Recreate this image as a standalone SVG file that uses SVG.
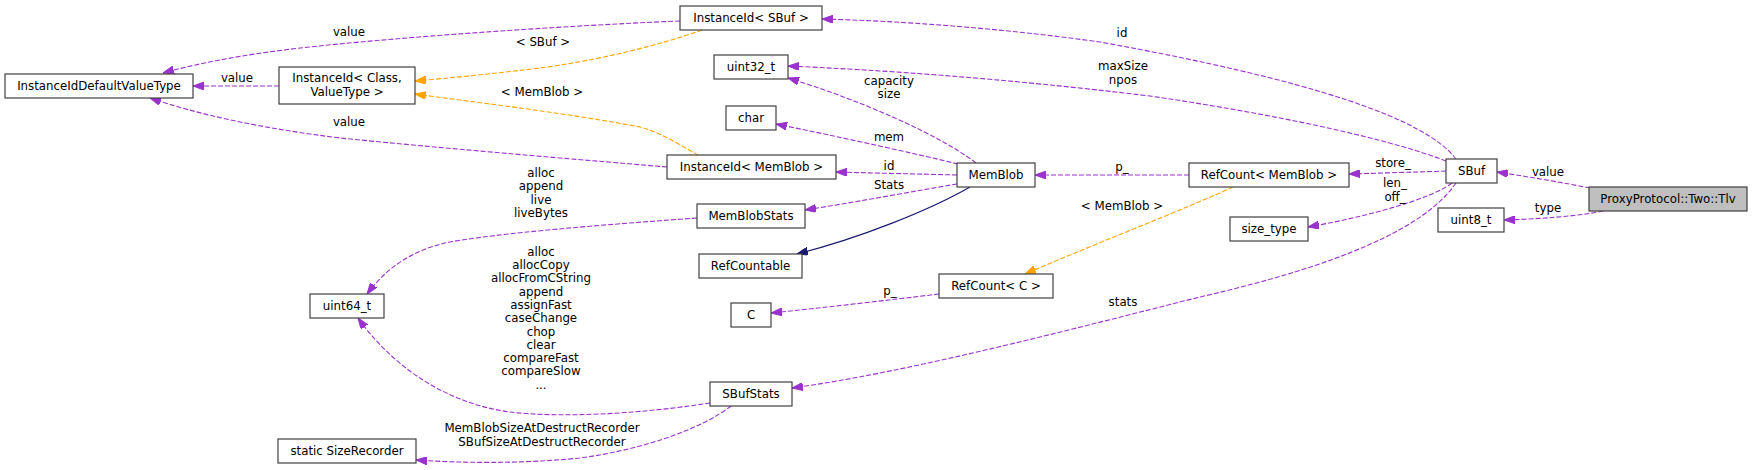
<svg xmlns="http://www.w3.org/2000/svg" width="1753" height="470" viewBox="0 0 1753 470">
<style>
text{font-family:"DejaVu Sans","Liberation Sans",sans-serif;font-size:11.8px;fill:#000;text-anchor:middle}
.node rect{fill:#fff;stroke:#404040;stroke-width:1.2}
.node.main rect{fill:#bfbfbf}
.e{fill:none;stroke:#9a32cd;stroke-width:1.1;stroke-dasharray:5,2;marker-end:url(#ap)}
.t{fill:none;stroke:#ffa500;stroke-width:1.1;stroke-dasharray:5,2;marker-end:url(#ao)}
.i{fill:none;stroke:#191970;stroke-width:1.1;marker-end:url(#ab)}
</style>
<defs>
<marker id="ap" viewBox="0 0 11 8" refX="11" refY="4" markerWidth="11" markerHeight="8" markerUnits="userSpaceOnUse" orient="auto"><path d="M0,0 L11,4 L0,8 z" fill="#9a32cd" stroke="#9a32cd"/></marker>
<marker id="ao" viewBox="0 0 11 8" refX="11" refY="4" markerWidth="11" markerHeight="8" markerUnits="userSpaceOnUse" orient="auto"><path d="M0,0 L11,4 L0,8 z" fill="#ffa500" stroke="#ffa500"/></marker>
<marker id="ab" viewBox="0 0 11 8" refX="11" refY="4" markerWidth="11" markerHeight="8" markerUnits="userSpaceOnUse" orient="auto"><path d="M0,0 L11,4 L0,8 z" fill="#191970" stroke="#191970"/></marker>
</defs>
<rect width="1753" height="470" fill="#fff"/>
<g id="edges">
<path class="e" d="M1590,188 C1565,183 1530,177 1497,172"/>
<text x="1548" y="176">value</text>
<path class="e" d="M1603,211 C1580,216 1540,219 1504,220"/>
<text x="1548" y="212">type</text>
<path class="e" d="M1446,171 C1420,172 1380,173 1349,174"/>
<text x="1393" y="167">store_</text>
<path class="e" d="M1452,183 C1430,200 1360,218 1308,227"/>
<text x="1395" y="187">len_</text>
<text x="1395" y="201">off_</text>
<path class="e" d="M1456,183 C1425,228 1340,265 1200,297 C1080,327 910,372 792,388"/>
<text x="1123" y="306">stats</text>
<path class="e" d="M1456,159 C1425,118 1310,80 1100,42 C1000,28 900,21 822,19"/>
<text x="1122" y="37">id</text>
<path class="e" d="M1446,161 C1400,143 1300,118 1150,96 C1000,78 880,70 788,66"/>
<text x="1123" y="70">maxSize</text>
<text x="1123" y="84">npos</text>
<path class="e" d="M1189,175 L1035,175"/>
<text x="1122" y="171">p_</text>
<path class="t" d="M1233,187 C1190,207 1080,250 1025,274"/>
<text x="1122" y="210">&lt; MemBlob &gt;</text>
<path class="e" d="M939,294 C890,300 820,308 771,313"/>
<text x="890" y="295">p_</text>
<path class="e" d="M957,175 C920,174 870,173 836,172"/>
<text x="889" y="170">id</text>
<path class="e" d="M957,184 C910,192 850,203 805,210"/>
<text x="889" y="189">Stats</text>
<path class="i" d="M970,187 C930,210 860,238 797,254"/>
<path class="e" d="M958,164 C900,150 830,135 776,124"/>
<text x="889" y="141">mem</text>
<path class="e" d="M976,163 C940,135 860,100 788,78"/>
<text x="889" y="85">capacity</text>
<text x="889" y="98">size</text>
<path class="t" d="M698,155 C680,145 660,132 640,127 C560,112 480,103 415,94"/>
<text x="542" y="96">&lt; MemBlob &gt;</text>
<path class="t" d="M702,30 C660,45 600,60 540,68 C490,74 450,78 415,81"/>
<text x="543" y="46">&lt; SBuf &gt;</text>
<path class="e" d="M680,21 C560,26 400,37 300,48 C240,55 195,64 163,73"/>
<text x="349" y="36">value</text>
<path class="e" d="M279,86 L193,86"/>
<text x="237" y="82">value</text>
<path class="e" d="M667,167 C560,158 440,148 340,138 C260,128 200,115 150,98"/>
<text x="349" y="126">value</text>
<path class="e" d="M697,218 C600,225 500,233 450,242 C410,250 385,270 367,294"/>
<text x="541" y="177">alloc</text>
<text x="541" y="190">append</text>
<text x="541" y="203.5">live</text>
<text x="541" y="217">liveBytes</text>
<path class="e" d="M710,403 C640,414 560,418 510,412 C450,404 395,370 358,318"/>
<text x="541" y="255.7">alloc</text>
<text x="541" y="269">allocCopy</text>
<text x="541" y="282.3">allocFromCString</text>
<text x="541" y="295.6">append</text>
<text x="541" y="308.9">assignFast</text>
<text x="541" y="322.2">caseChange</text>
<text x="541" y="335.5">chop</text>
<text x="541" y="348.8">clear</text>
<text x="541" y="362.1">compareFast</text>
<text x="541" y="375.4">compareSlow</text>
<text x="541" y="388.7">...</text>
<path class="e" d="M731,406 C700,430 640,450 580,458 C520,464 460,463 416,460"/>
<text x="542" y="432">MemBlobSizeAtDestructRecorder</text>
<text x="542" y="445.5">SBufSizeAtDestructRecorder</text>
</g>
<g id="n_tlv" class="node main"><rect x="1589" y="187" width="158" height="24"/><text x="1668" y="203">ProxyProtocol::Two::Tlv</text></g>
<g id="n_sbuf" class="node"><rect x="1446" y="159" width="51" height="24"/><text x="1471.5" y="175">SBuf</text></g>
<g id="n_uint8" class="node"><rect x="1438" y="208" width="66" height="24"/><text x="1471" y="224">uint8_t</text></g>
<g id="n_rcmb" class="node"><rect x="1189" y="163" width="160" height="24"/><text x="1269" y="179">RefCount&lt; MemBlob &gt;</text></g>
<g id="n_sizetype" class="node"><rect x="1230" y="217" width="78" height="24"/><text x="1269" y="233">size_type</text></g>
<g id="n_memblob" class="node"><rect x="957" y="163" width="78" height="24"/><text x="996" y="179">MemBlob</text></g>
<g id="n_rcc" class="node"><rect x="939" y="274" width="114" height="24"/><text x="996" y="290">RefCount&lt; C &gt;</text></g>
<g id="n_c" class="node"><rect x="731" y="303" width="40" height="24"/><text x="751" y="319">C</text></g>
<g id="n_iimb" class="node"><rect x="667" y="155" width="169" height="24"/><text x="751.5" y="171">InstanceId&lt; MemBlob &gt;</text></g>
<g id="n_mbs" class="node"><rect x="697" y="204" width="108" height="24"/><text x="751" y="220">MemBlobStats</text></g>
<g id="n_rcable" class="node"><rect x="699" y="254" width="103" height="24"/><text x="750.5" y="270">RefCountable</text></g>
<g id="n_iisbuf" class="node"><rect x="680" y="6" width="142" height="24"/><text x="751" y="22">InstanceId&lt; SBuf &gt;</text></g>
<g id="n_uint32" class="node"><rect x="714" y="55" width="74" height="24"/><text x="751" y="71">uint32_t</text></g>
<g id="n_char" class="node"><rect x="726" y="106" width="50" height="24"/><text x="751" y="122">char</text></g>
<g id="n_sbufstats" class="node"><rect x="710" y="382" width="82" height="24"/><text x="751" y="398">SBufStats</text></g>
<g id="n_iic" class="node"><rect x="279" y="67" width="136" height="37"/><text x="347" y="82">InstanceId&lt; Class,</text><text x="347" y="95.5">ValueType &gt;</text></g>
<g id="n_iidvt" class="node"><rect x="5" y="74" width="188" height="24"/><text x="99" y="90">InstanceIdDefaultValueType</text></g>
<g id="n_uint64" class="node"><rect x="310" y="294" width="74" height="24"/><text x="347" y="310">uint64_t</text></g>
<g id="n_sizerec" class="node"><rect x="278" y="439" width="138" height="24"/><text x="347" y="455">static SizeRecorder</text></g>
</svg>
